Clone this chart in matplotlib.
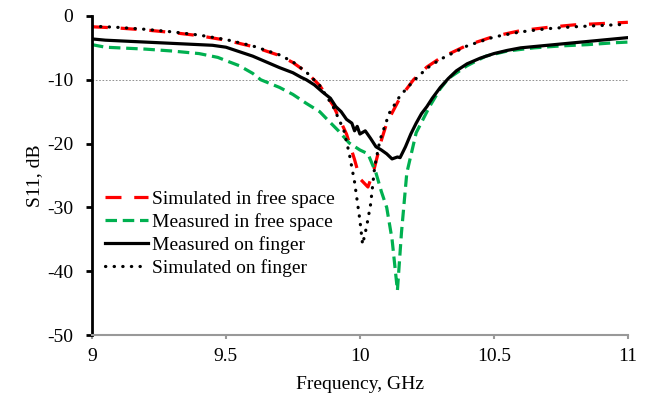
import matplotlib
matplotlib.use('Agg')
import matplotlib.pyplot as plt

plt.rcParams['font.family'] = ['Liberation Serif', 'DejaVu Serif']

# Simulated in free space
f_sim_free = [9.00, 9.10, 9.20, 9.30, 9.40, 9.50, 9.60, 9.70, 9.75, 9.80, 9.85, 9.90,
              9.95, 9.98, 10.00, 10.03, 10.05, 10.08, 10.10, 10.15, 10.20, 10.25,
              10.30, 10.35, 10.40, 10.50, 10.60, 10.70, 10.80, 10.90, 11.00]
s_sim_free = [-1.7, -1.9, -2.2, -2.6, -3.1, -3.8, -4.8, -6.2, -7.3, -8.8, -10.9, -14.0,
              -18.5, -22.5, -25.5, -26.8, -24.5, -19.5, -16.8, -12.8, -10.0, -8.0,
              -6.6, -5.6, -4.6, -3.2, -2.3, -1.8, -1.4, -1.2, -1.0]

# Measured in free space
f_meas_free = [9.00, 9.05, 9.10, 9.20, 9.30, 9.40, 9.47, 9.50, 9.55, 9.60, 9.63, 9.70,
               9.75, 9.80, 9.85, 9.88, 9.92, 9.96, 10.00, 10.03, 10.06, 10.08, 10.10,
               10.12, 10.14, 10.155, 10.175, 10.21, 10.26, 10.30, 10.33, 10.40, 10.47,
               10.55, 10.65, 10.75, 10.85, 10.95, 11.00]
s_meas_free = [-4.5, -4.9, -5.0, -5.2, -5.5, -5.9, -6.5, -7.0, -7.8, -9.0, -10.0, -11.2,
               -12.3, -13.7, -15.0, -16.3, -18.0, -19.9, -21.0, -21.6, -24.6, -27.5, -30.0,
               -35.0, -43.0, -34.0, -24.6, -18.3, -14.2, -11.4, -9.8, -7.8, -6.3,
               -5.5, -5.0, -4.7, -4.5, -4.2, -4.1]

# Measured on finger
f_meas_fing = [9.00, 9.05, 9.10, 9.15, 9.20, 9.25, 9.30, 9.35, 9.40, 9.45, 9.50, 9.55,
               9.60, 9.65, 9.70, 9.75, 9.78, 9.80, 9.83, 9.86, 9.89, 9.91, 9.93, 9.95,
               9.97, 9.98, 9.99, 10.00, 10.02, 10.04, 10.06, 10.08, 10.10, 10.12, 10.14,
               10.15, 10.17, 10.19, 10.21, 10.23, 10.25, 10.27, 10.30, 10.33, 10.36,
               10.40, 10.45, 10.50, 10.55, 10.60, 10.70, 10.80, 10.90, 11.00]
s_meas_fing = [-3.6, -3.8, -3.9, -4.0, -4.1, -4.2, -4.3, -4.4, -4.5, -4.6, -4.9, -5.6,
               -6.3, -7.2, -8.1, -8.9, -9.6, -10.0, -10.8, -11.9, -12.9, -14.2, -15.0, -16.2,
               -16.8, -18.0, -17.3, -18.5, -18.0, -19.2, -20.5, -21.0, -21.6, -22.4, -22.1,
               -22.2, -20.5, -18.5, -16.8, -15.3, -14.2, -12.9, -11.2, -9.8, -8.6,
               -7.5, -6.6, -5.9, -5.4, -5.0, -4.6, -4.2, -3.8, -3.4]

# Simulated on finger
f_sim_fing = [9.00, 9.10, 9.20, 9.30, 9.40, 9.50, 9.60, 9.70, 9.75, 9.80, 9.85, 9.90,
              9.94, 9.96, 9.98, 10.00, 10.01, 10.025, 10.04, 10.055, 10.075, 10.11,
              10.15, 10.20, 10.25, 10.30, 10.40, 10.50, 10.60, 10.70, 10.80, 10.90, 11.00]
s_sim_fing = [-1.6, -1.8, -2.1, -2.5, -3.0, -3.7, -4.7, -6.1, -7.2, -8.8, -10.9, -14.2,
              -17.9, -21.5, -26.0, -32.0, -35.8, -33.0, -29.5, -23.7, -19.4, -15.2,
              -12.5, -10.2, -8.2, -6.8, -4.7, -3.3, -2.5, -2.0, -1.7, -1.5, -1.3]

xticks = [9, 9.5, 10, 10.5, 11]
xtick_labels = ['9', '9.5', '10', '10.5', '11']
yticks = [0, -10, -20, -30, -40, -50]
ytick_labels = ['0', '-10', '-20', '-30', '-40', '-50']

fig = plt.figure(figsize=(6.52, 3.98), dpi=100)
ax = fig.add_axes([0.141, 0.158, 0.822, 0.802])

ax.axhline(-10, color='#808080', lw=0.6, ls=(0, (2, 2)), zorder=1)

ax.plot(f_sim_free, s_sim_free, color='#ff0000', lw=2.3, ls=(0, (5, 4)),
        label='Simulated in free space')
ax.plot(f_meas_free, s_meas_free, color='#00b050', lw=2.3, ls=(0, (3.6, 1.8)),
        label='Measured in free space')
ax.plot(f_meas_fing, s_meas_fing, color='black', lw=2.3, label='Measured on finger')
ax.plot(f_sim_fing, s_sim_fing, color='black', lw=2.3, ls=(0, (0.1, 2.6)),
        dash_capstyle='round', label='Simulated on finger')

ax.set_xlim(9, 11)
ax.set_ylim(-50, 0)
ax.set_xticks(xticks)
ax.set_xticklabels(xtick_labels)
ax.set_yticks(yticks)
ax.set_yticklabels(ytick_labels)

for s in ['top', 'right']:
    ax.spines[s].set_visible(False)
ax.spines['left'].set_linewidth(2)
ax.spines['left'].set_color('black')
ax.spines['bottom'].set_linewidth(1.5)
ax.spines['bottom'].set_color('#999999')
ax.tick_params(axis='y', direction='out', length=4.5, width=2, labelsize=14, pad=9)
ax.tick_params(axis='x', direction='out', length=3, width=1.5, color='#999999',
               labelsize=14, pad=6)

ax.set_xlabel('Frequency, GHz', fontsize=14, labelpad=8)
ax.set_ylabel('S11, dB', fontsize=14, labelpad=3)

ax.legend(loc='upper left', bbox_to_anchor=(0.024, 0.455), frameon=False, fontsize=14,
          handlelength=2.2, handletextpad=0.25, labelspacing=0.26,
          borderpad=0, borderaxespad=0)

fig.savefig('out.png', dpi=100)
